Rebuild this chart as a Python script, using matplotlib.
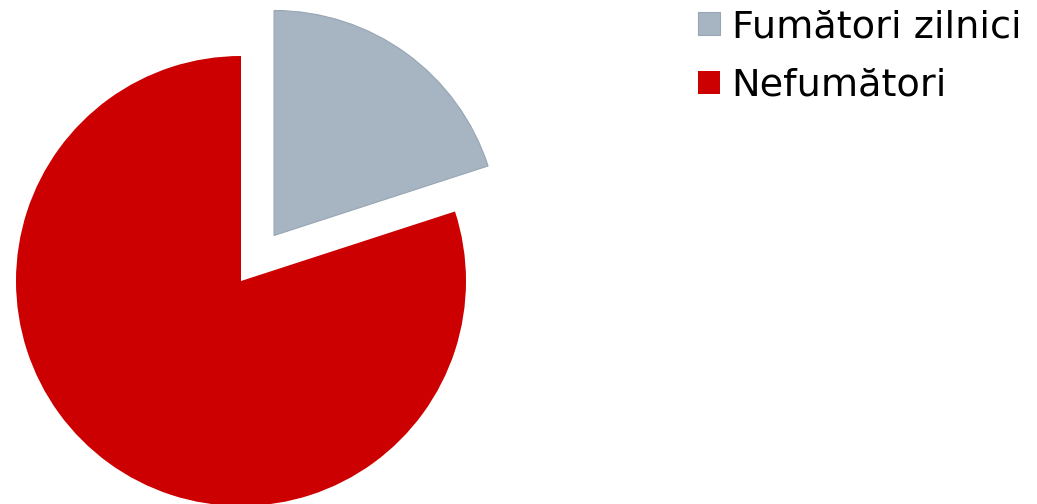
import matplotlib.pyplot as plt

labels = ["Fumători zilnici", "Nefumători"]
values = [20, 80]
colors = ["#A7B4C2", "#CC0000"]

radius = 225
explode = [0.25 * radius, 0]  # pie() takes explode in data units

fig = plt.figure(figsize=(10.37, 5.04), dpi=100)
ax = fig.add_axes([0, 0, 1, 1])

wedges, _ = ax.pie(values, colors=colors, explode=explode, startangle=90,
                   counterclock=False, center=(241, 223), radius=radius,
                   wedgeprops=dict(linewidth=0.8, edgecolor="none"))
wedges[0].set_edgecolor("#97A5B4")

ax.set_xlim(0, 1037)
ax.set_ylim(0, 504)
ax.set_aspect("equal")
ax.axis("off")

fig.legend(wedges, labels, loc="upper left", bbox_to_anchor=(0.673, 0.982),
           frameon=False, fontsize=27.5, handlelength=0.58, handleheight=0.58,
           handletextpad=0.3, labelspacing=0.6, borderpad=0, borderaxespad=0)

fig.savefig("out.png", dpi=100)
